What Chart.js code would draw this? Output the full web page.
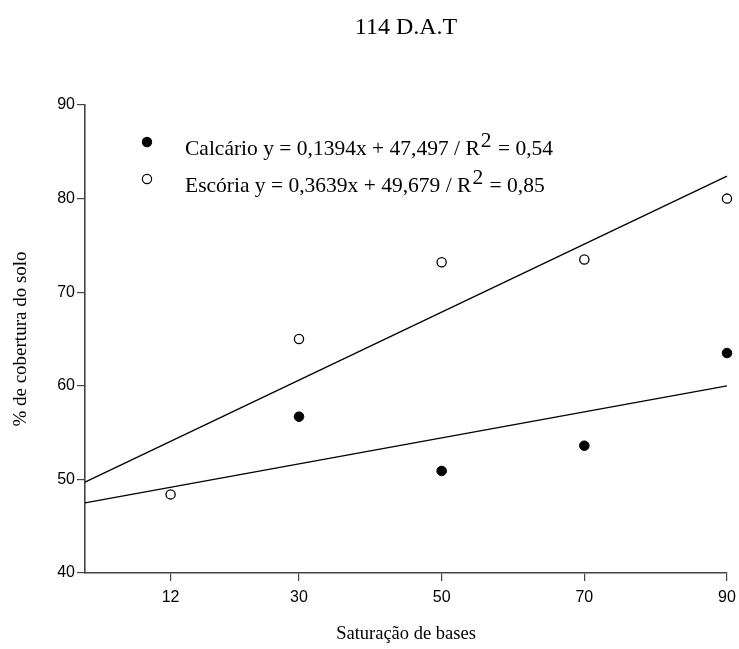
<!DOCTYPE html>
<html>
<head>
<meta charset="utf-8">
<script src="https://cdn.jsdelivr.net/npm/chart.js@4/dist/chart.umd.min.js"></script>
<style>
  html, body { margin: 0; padding: 0; background: #fff; }
  #wrap { width: 739px; height: 649px; }
</style>
</head>
<body>
<div id="wrap"><canvas id="chart" width="739" height="649"></canvas></div>
<script>
// values
const xValues = [12, 30, 50, 70, 90];
const calcario = [null, 56.7, 50.9, 53.6, 63.5];   // filled circles (12 hidden)
const escoria = [48.4, 65.0, 73.2, 73.5, 80.0];    // open circles
const lineX = [0, 90];
const calcarioFit = [47.5, 60.0];
const escoriaFit = [49.7, 82.4];
const xTicks = [12, 30, 50, 70, 90];
const yTicks = [40, 50, 60, 70, 80, 90];

const chartTitle = '114 D.A.T';
const legendText = [
  ['Calcário y = 0,1394x + 47,497 / R', '2', ' = 0,54'],
  ['Escória y = 0,3639x + 49,679 / R', '2', ' = 0,85']
];

const SERIF = '"Liberation Serif", "Times New Roman", serif';
const SANS = '"Liberation Sans", Arial, sans-serif';
const AXIS = '#444';

function pts(xs, ys) {
  const out = [];
  xs.forEach((x, i) => { if (ys[i] != null) out.push({ x, y: ys[i] }); });
  return out;
}

// title centred over the plot area + legend inside the plot, top-left
const annotations = {
  id: 'annotations',
  afterDatasetsDraw(chart) {
    const ctx = chart.ctx;
    const area = chart.chartArea;
    ctx.save();

    ctx.fillStyle = '#000';
    ctx.font = '24px ' + SERIF;
    ctx.textAlign = 'center';
    ctx.textBaseline = 'middle';
    ctx.fillText(chartTitle, (area.left + area.right) / 2, 28);

    const rows = [
      { y: 142, fill: '#000' },
      { y: 179, fill: '#fff' }
    ];
    rows.forEach((r, i) => {
      ctx.beginPath();
      ctx.arc(147, r.y, 4.6, 0, Math.PI * 2);
      ctx.fillStyle = r.fill;
      ctx.fill();
      ctx.lineWidth = 1.2;
      ctx.strokeStyle = '#000';
      ctx.stroke();

      const [pre, sup, post] = legendText[i];
      const base = r.y + 13;
      let x = 185;
      ctx.fillStyle = '#000';
      ctx.textBaseline = 'alphabetic';
      ctx.textAlign = 'left';
      ctx.font = '21.5px ' + SERIF;
      ctx.fillText(pre, x, base);
      x += ctx.measureText(pre).width + 1;
      ctx.fillText(sup, x, base - 8);
      x += ctx.measureText(sup).width + 1;
      ctx.fillText(post, x, base);
    });
    ctx.restore();
  }
};

new Chart(document.getElementById('chart').getContext('2d'), {
  type: 'scatter',
  data: {
    datasets: [
      {
        label: 'Calcário fit',
        type: 'line',
        data: pts(lineX, calcarioFit),
        borderColor: '#000',
        borderWidth: 1.3,
        pointRadius: 0,
        fill: false
      },
      {
        label: 'Escória fit',
        type: 'line',
        data: pts(lineX, escoriaFit),
        borderColor: '#000',
        borderWidth: 1.3,
        pointRadius: 0,
        fill: false
      },
      {
        label: 'Calcário',
        data: pts(xValues, calcario),
        pointRadius: 4.8,
        pointBackgroundColor: '#000',
        pointBorderColor: '#000',
        pointBorderWidth: 1
      },
      {
        label: 'Escória',
        data: pts(xValues, escoria),
        pointRadius: 4.6,
        pointBackgroundColor: '#fff',
        pointBorderColor: '#000',
        pointBorderWidth: 1.3
      }
    ]
  },
  options: {
    responsive: false,
    animation: false,
    clip: false,
    layout: { padding: { left: 0, right: 12, top: 105, bottom: 0 } },
    plugins: {
      legend: { display: false },
      tooltip: { enabled: false },
      title: { display: false }
    },
    scales: {
      x: {
        type: 'linear',
        min: 0,
        max: 90,
        afterBuildTicks: (s) => { s.ticks = xTicks.map(v => ({ value: v })); },
        afterFit: (s) => { s.height = 76; s.paddingRight = 0; },
        grid: { drawOnChartArea: false, drawTicks: true, tickLength: 8, color: AXIS, lineWidth: 1.2 },
        border: { display: true, color: AXIS, width: 1.6 },
        ticks: { color: '#000', font: { family: SANS, size: 16 }, padding: 7 },
        title: {
          display: true,
          text: 'Saturação de bases',
          color: '#000',
          font: { family: SERIF, size: 18.5 },
          padding: { top: 8 }
        }
      },
      y: {
        type: 'linear',
        min: 40,
        max: 90,
        afterBuildTicks: (s) => { s.ticks = yTicks.map(v => ({ value: v })); },
        afterFit: (s) => { s.width = 85; },
        grid: { drawOnChartArea: false, drawTicks: true, tickLength: 8, color: AXIS, lineWidth: 1.2 },
        border: { display: true, color: AXIS, width: 1.6 },
        ticks: { color: '#000', font: { family: SANS, size: 16 }, padding: 2 },
        title: {
          display: true,
          text: '% de cobertura do solo',
          color: '#000',
          font: { family: SERIF, size: 19 },
          padding: { top: 10, bottom: 8 }
        }
      }
    }
  },
  plugins: [annotations]
});
</script>
</body>
</html>
